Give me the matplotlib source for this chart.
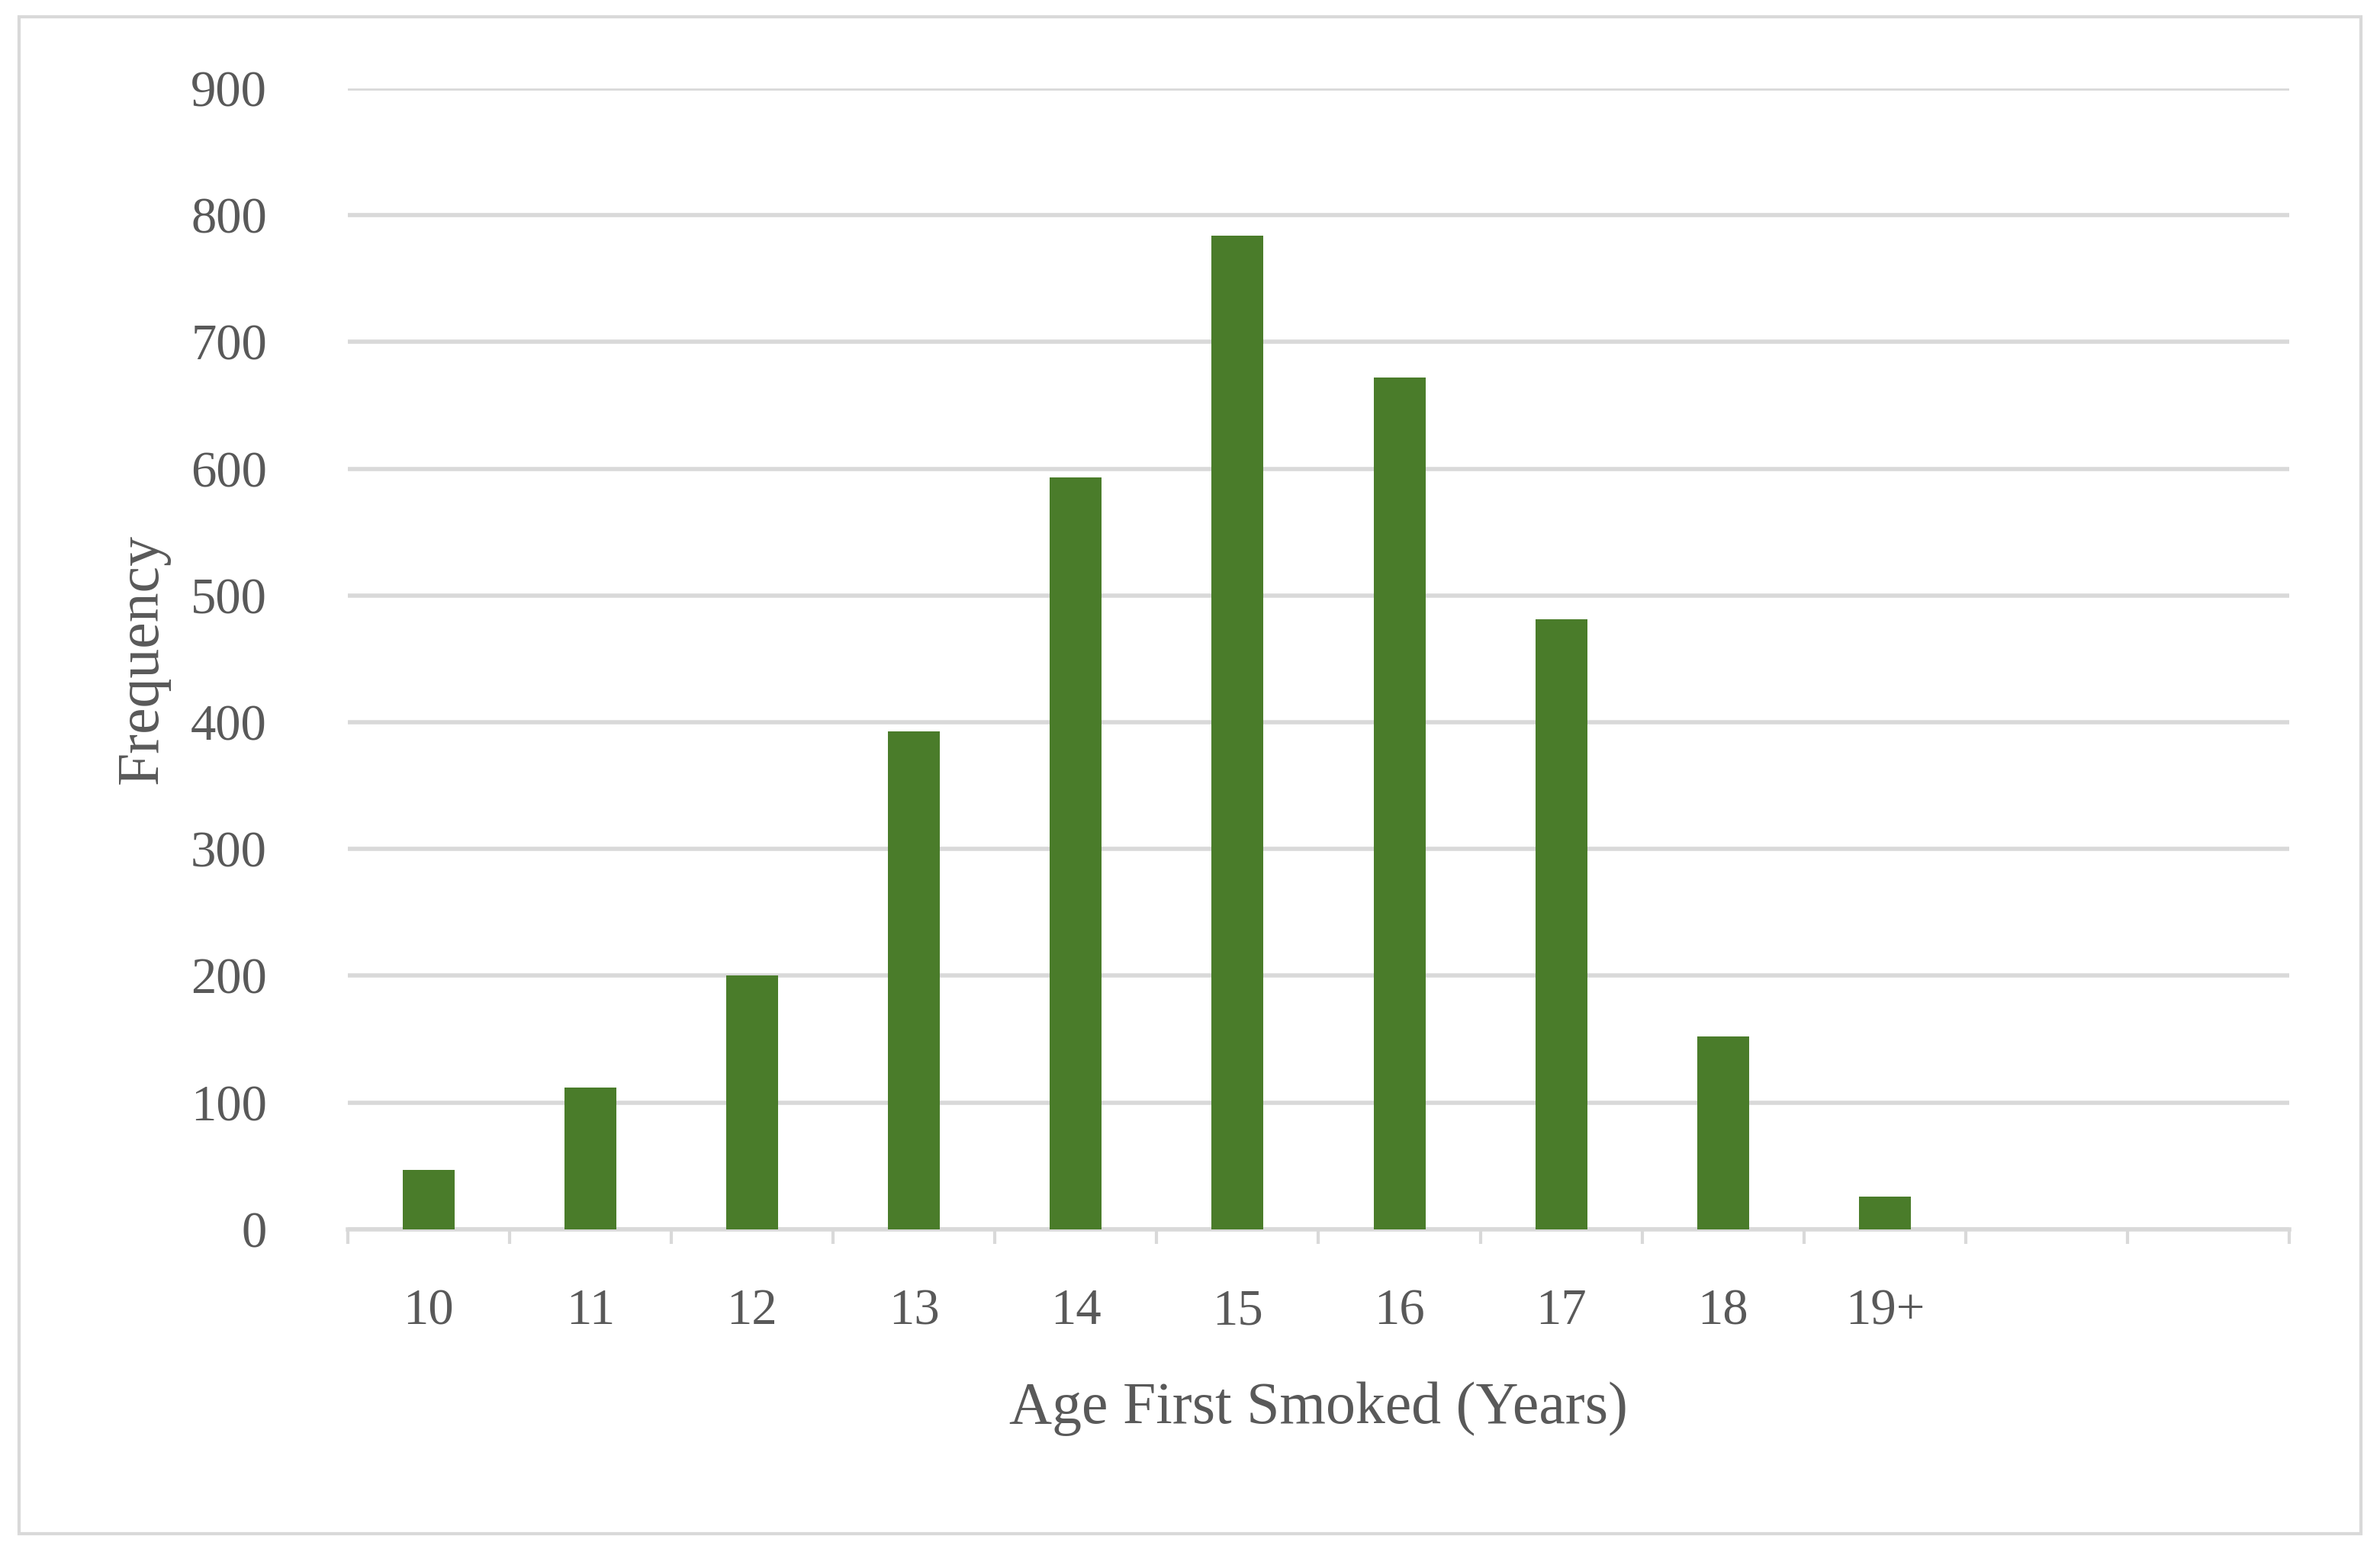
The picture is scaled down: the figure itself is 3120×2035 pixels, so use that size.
import numpy as np
import matplotlib.pyplot as plt
from matplotlib.patches import Rectangle

ages = ["10", "11", "12", "13", "14", "15", "16", "17", "18", "19+", "", ""]
freq = [47, 112, 200, 393, 593, 784, 672, 481, 152, 26, 0, 0]

plt.rcParams['font.family'] = ['Liberation Serif', 'DejaVu Serif']
fig = plt.figure(figsize=(15.6, 10.175), dpi=200)
ax = fig.add_axes([0.146, 0.208, 0.816, 0.735])

x = np.arange(len(ages))
ax.bar(x, freq, width=0.32, color='#4a7c2a', zorder=3)

ax.set_xlim(-0.5, len(ages) - 0.5)
ax.set_ylim(0, 900)
ax.set_yticks(np.arange(0, 901, 100))
ax.yaxis.grid(True, color='#d9d9d9', linewidth=2)
ax.set_axisbelow(True)
ax.tick_params(axis='y', length=0, labelsize=24, colors='#595959', pad=38)

ax.set_xticks(x)
ax.set_xticklabels(ages)
ax.set_xticks(np.arange(-0.5, len(ages), 1), minor=True)
ax.tick_params(axis='x', which='major', length=0, labelsize=24, colors='#595959', pad=28)
ax.tick_params(axis='x', which='minor', length=7, width=1.5, color='#d9d9d9')

for s in ['top', 'right', 'left']:
    ax.spines[s].set_visible(False)
ax.spines['bottom'].set_color('#d9d9d9')
ax.spines['bottom'].set_linewidth(2)

ax.set_xlabel('Age First Smoked (Years)', fontsize=28, color='#595959', labelpad=22)
ax.set_ylabel('Frequency', fontsize=28, color='#595959', labelpad=10)

fig.patches.append(Rectangle((0.008, 0.012), 0.984, 0.977, transform=fig.transFigure,
                             fill=False, edgecolor='#d9d9d9', linewidth=1.5))

fig.savefig('out.png', dpi=200)
